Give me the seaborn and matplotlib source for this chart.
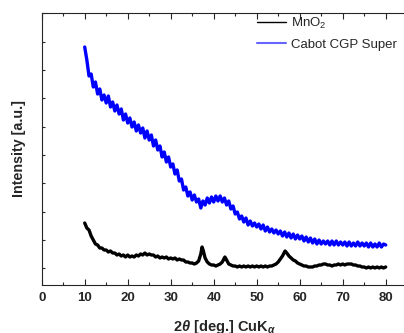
import numpy as np
import pandas as pd
import seaborn as sns
import matplotlib
matplotlib.use("Agg")
import matplotlib.pyplot as plt
from matplotlib.lines import Line2D

# XRD patterns (intensity in arbitrary units)
x_cgp = [10.0, 10.5, 11.0, 11.5, 12.0, 12.5, 13.0, 13.5, 14.0, 14.5,
         15.0, 15.5, 16.0, 16.5, 17.0, 17.5, 18.0, 18.5, 19.0, 19.5,
         20.0, 20.5, 21.0, 21.5, 22.0, 22.5, 23.0, 23.5, 24.0, 24.5,
         25.0, 25.5, 26.0, 26.5, 27.0, 27.5, 28.0, 28.5, 29.0, 29.5,
         30.0, 30.5, 31.0, 31.5, 32.0, 32.5, 33.0, 33.5, 34.0, 34.5,
         35.0, 35.5, 36.0, 36.5, 37.0, 37.5, 38.0, 38.5, 39.0, 39.5,
         40.0, 40.5, 41.0, 41.5, 42.0, 42.5, 43.0, 43.5, 44.0, 44.5,
         45.0, 45.5, 46.0, 46.5, 47.0, 47.5, 48.0, 48.5, 49.0, 49.5,
         50.0, 50.5, 51.0, 51.5, 52.0, 52.5, 53.0, 53.5, 54.0, 54.5,
         55.0, 55.5, 56.0, 56.5, 57.0, 57.5, 58.0, 58.5, 59.0, 59.5,
         60.0, 60.5, 61.0, 61.5, 62.0, 62.5, 63.0, 63.5, 64.0, 64.5,
         65.0, 65.5, 66.0, 66.5, 67.0, 67.5, 68.0, 68.5, 69.0, 69.5,
         70.0, 70.5, 71.0, 71.5, 72.0, 72.5, 73.0, 73.5, 74.0, 74.5,
         75.0, 75.5, 76.0, 76.5, 77.0, 77.5, 78.0, 78.5, 79.0, 79.5, 80.0]
y_cgp = [238, 225, 209, 211, 198, 203, 191, 196, 185, 190,
         182, 189, 178, 183, 174, 180, 171, 176, 165, 171,
         162, 167, 158, 163, 154, 160, 152, 157, 147, 154,
         145, 150, 139, 145, 135, 139, 128, 133, 123, 128,
         118, 121, 111, 115, 104, 106, 95, 98, 89, 93,
         85, 90, 83, 86, 77, 84, 80, 87, 82, 88,
         83, 89, 84, 89, 83, 87, 80, 84, 76, 79,
         71, 73, 66, 69, 63, 67, 60, 64, 59, 62,
         58, 61, 56, 60, 54, 58, 53, 56, 52, 55,
         51, 54, 49, 53, 48, 52, 47, 51, 46, 50,
         46, 49, 44, 48, 43, 47, 42, 46, 41, 45,
         41, 44, 41, 44, 40, 44, 40, 44, 40, 43,
         40, 43, 39, 43, 39, 42, 39, 43, 39, 42,
         39, 42, 38, 42, 38, 41, 38, 42, 38, 41, 40]

x_mno2 = [10.0, 10.5, 11.0, 11.5, 12.0, 12.5, 13.0, 13.5, 14.0, 14.5,
          15.0, 15.5, 16.0, 16.5, 17.0, 17.5, 18.0, 18.5, 19.0, 19.5,
          20.0, 20.5, 21.0, 21.5, 22.0, 22.5, 23.0, 23.5, 24.0, 24.5,
          25.0, 25.5, 26.0, 26.5, 27.0, 27.5, 28.0, 28.5, 29.0, 29.5,
          30.0, 30.5, 31.0, 31.5, 32.0, 32.5, 33.0, 33.5, 34.0, 34.5,
          35.0, 35.5, 36.0, 36.5, 37.0, 37.3, 37.6, 38.0, 38.5, 39.0,
          39.5, 40.0, 40.5, 41.0, 41.5, 42.0, 42.6, 43.0, 43.5, 44.0,
          44.5, 45.0, 45.5, 46.0, 46.5, 47.0, 47.5, 48.0, 48.5, 49.0,
          49.5, 50.0, 50.5, 51.0, 51.5, 52.0, 52.5, 53.0, 53.5, 54.0,
          54.5, 55.0, 55.5, 56.0, 56.6, 57.0, 57.5, 58.0, 58.5, 59.0,
          59.5, 60.0, 60.5, 61.0, 61.5, 62.0, 62.5, 63.0, 63.5, 64.0,
          64.5, 65.0, 65.5, 66.0, 66.5, 67.0, 67.5, 68.0, 68.5, 69.0,
          69.5, 70.0, 70.5, 71.0, 71.5, 72.0, 72.5, 73.0, 73.5, 74.0,
          74.5, 75.0, 75.5, 76.0, 76.5, 77.0, 77.5, 78.0, 78.5, 79.0,
          79.5, 80.0]
y_mno2 = [62, 57, 55, 49, 45, 41, 40, 37, 37, 35,
          35, 33, 34, 32, 32, 30, 31, 29, 30, 28,
          30, 28, 29, 28, 30, 29, 31, 30, 32, 30,
          31, 30, 30, 28, 29, 27, 28, 27, 28, 26,
          27, 26, 27, 25, 26, 25, 25, 23, 23, 22,
          22, 21, 22, 24, 31, 38, 34, 27, 23, 21,
          20, 20, 19, 20, 21, 23, 28, 25, 21, 20,
          19, 19, 18, 19, 18, 19, 18, 19, 18, 19,
          18, 19, 18, 19, 18, 19, 18, 19, 19, 20,
          21, 23, 26, 29, 34, 32, 29, 27, 25, 24,
          22, 21, 20, 19, 19, 18, 18, 18, 19, 19,
          20, 20, 21, 21, 20, 20, 19, 20, 20, 21,
          20, 21, 20, 21, 21, 21, 20, 20, 19, 19,
          18, 18, 17, 18, 17, 18, 17, 18, 17, 18,
          17, 18]

df = pd.concat([
    pd.DataFrame({"angle": x_mno2, "intensity": y_mno2, "sample": "MnO2"}),
    pd.DataFrame({"angle": x_cgp, "intensity": y_cgp, "sample": "Cabot CGP Super"}),
])

sns.set_style("ticks")
plt.rcParams["font.family"] = ["Liberation Sans", "DejaVu Sans"]
plt.rcParams["mathtext.fontset"] = "custom"
plt.rcParams["mathtext.rm"] = "Liberation Sans"
plt.rcParams["mathtext.it"] = "Liberation Sans:italic:bold"
plt.rcParams["mathtext.bf"] = "Liberation Sans:bold"

fig = plt.figure(figsize=(4.04, 3.33), dpi=100)
ax = fig.add_axes([41.7 / 404, 48 / 333, 365.5 / 404, 272 / 333])

sns.lineplot(data=df, x="angle", y="intensity", hue="sample",
             palette={"MnO2": "black", "Cabot CGP Super": "#0000ff"},
             linewidth=2.4, legend=False, ax=ax, estimator=None, sort=False)

ax.set_xlim(0, 85)
ax.set_ylim(0, 272)
ax.set_xticks(np.arange(0, 81, 10))
ax.set_xticks(np.arange(0, 86, 5), minor=True)
ax.set_yticks(np.arange(16.7, 272, 28.33))
ax.set_yticklabels([])
ax.tick_params(axis="x", which="major", direction="in", length=4, width=0.8,
               top=True, labelsize=9.5, pad=5)
ax.tick_params(axis="x", which="minor", direction="in", length=2, width=0.8, top=True)
ax.tick_params(axis="y", which="major", direction="in", length=2.5, width=0.8, pad=2)
for lbl in ax.get_xticklabels():
    lbl.set_fontweight("bold")
for s in ax.spines.values():
    s.set_linewidth(0.8)

ax.set_xlabel(r"2$\theta$ [deg.] CuK$_{\alpha}$", fontsize=10.5, fontweight="bold", labelpad=10)
ax.set_ylabel("Intensity [a.u.]", fontsize=10.3, fontweight="bold", labelpad=9)

handles = [Line2D([], [], color="black", lw=1),
           Line2D([], [], color="#6666ff", lw=1.5)]
fig.legend(handles, ["MnO$_2$", "Cabot CGP Super"], loc="upper left",
           bbox_to_anchor=(257 / 404, 1 - 16 / 333), frameon=False, fontsize=9.5,
           handlelength=2.2, handletextpad=0.4, labelspacing=0.55, borderaxespad=0,
           borderpad=0)

fig.savefig("out.png", dpi=100)
